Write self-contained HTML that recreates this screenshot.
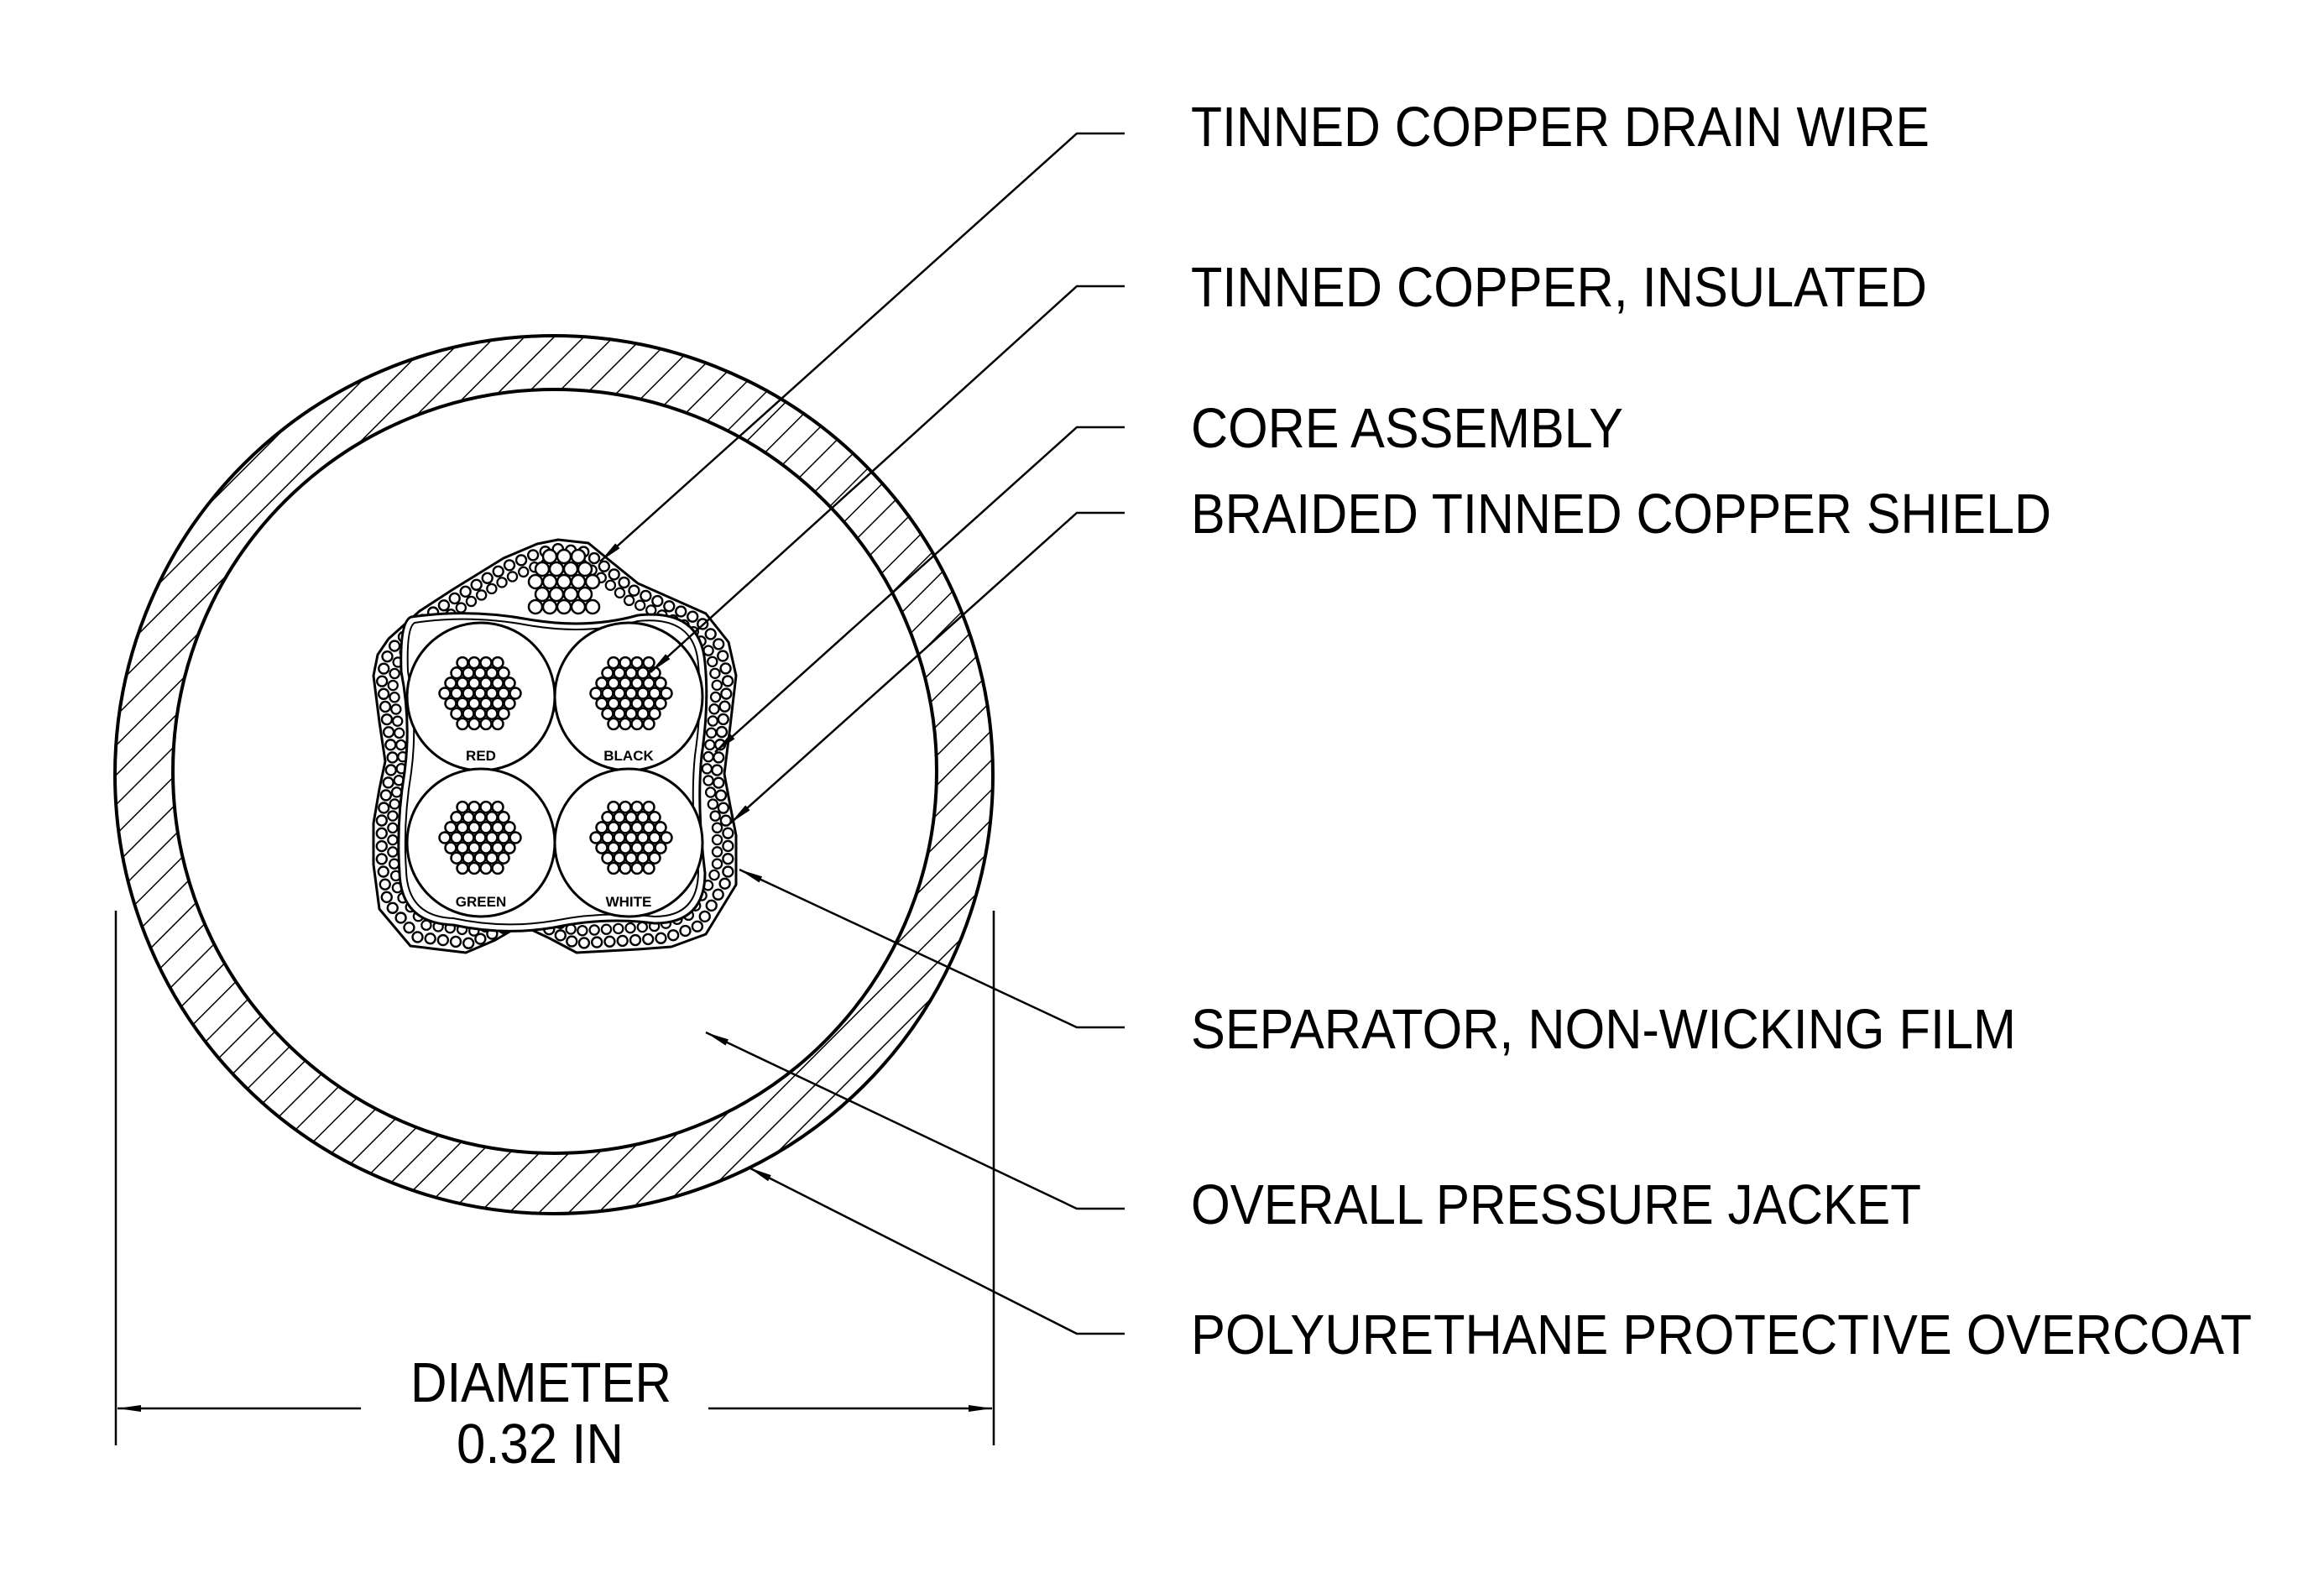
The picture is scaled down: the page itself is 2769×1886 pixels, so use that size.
<!DOCTYPE html>
<html><head><meta charset="utf-8"><style>html,body{margin:0;padding:0;background:#fff}svg{display:block}</style></head>
<body>
<svg width="2769" height="1886" viewBox="0 0 2769 1886" xmlns="http://www.w3.org/2000/svg">
<defs>
<pattern id="hatch" width="25" height="25" patternUnits="userSpaceOnUse" patternTransform="rotate(45)">
<line x1="0" y1="0" x2="0" y2="25" stroke="#000" stroke-width="3"/>
</pattern>
<marker id="ah" markerWidth="30" markerHeight="12" refX="28" refY="5" orient="auto" markerUnits="userSpaceOnUse">
<path d="M0,1 L28,5 L0,9 Z" fill="#000"/>
</marker>
<g id="strands" fill="#fff" stroke="#000" stroke-width="2.5">
<circle cx="-21" cy="-36.4" r="6.5"/><circle cx="-7" cy="-36.4" r="6.5"/><circle cx="7" cy="-36.4" r="6.5"/><circle cx="21" cy="-36.4" r="6.5"/>
<circle cx="-28" cy="-24.2" r="6.5"/><circle cx="-14" cy="-24.2" r="6.5"/><circle cx="0" cy="-24.2" r="6.5"/><circle cx="14" cy="-24.2" r="6.5"/><circle cx="28" cy="-24.2" r="6.5"/>
<circle cx="-35" cy="-12.1" r="6.5"/><circle cx="-21" cy="-12.1" r="6.5"/><circle cx="-7" cy="-12.1" r="6.5"/><circle cx="7" cy="-12.1" r="6.5"/><circle cx="21" cy="-12.1" r="6.5"/><circle cx="35" cy="-12.1" r="6.5"/>
<circle cx="-42" cy="0" r="6.5"/><circle cx="-28" cy="0" r="6.5"/><circle cx="-14" cy="0" r="6.5"/><circle cx="0" cy="0" r="6.5"/><circle cx="14" cy="0" r="6.5"/><circle cx="28" cy="0" r="6.5"/><circle cx="42" cy="0" r="6.5"/>
<circle cx="-35" cy="12.1" r="6.5"/><circle cx="-21" cy="12.1" r="6.5"/><circle cx="-7" cy="12.1" r="6.5"/><circle cx="7" cy="12.1" r="6.5"/><circle cx="21" cy="12.1" r="6.5"/><circle cx="35" cy="12.1" r="6.5"/>
<circle cx="-28" cy="24.2" r="6.5"/><circle cx="-14" cy="24.2" r="6.5"/><circle cx="0" cy="24.2" r="6.5"/><circle cx="14" cy="24.2" r="6.5"/><circle cx="28" cy="24.2" r="6.5"/>
<circle cx="-21" cy="36.4" r="6.5"/><circle cx="-7" cy="36.4" r="6.5"/><circle cx="7" cy="36.4" r="6.5"/><circle cx="21" cy="36.4" r="6.5"/>
</g>
<path id="coreP" d="M665,643 L701,647 L723,665 L760,695 L841,731 L868,765 L877,805 L870,865 L863,922 L870,960 L877,995 L877,1054 L841,1113 L800,1128 L760,1131 L687,1135 L655,1118 L621,1102 L590,1120 L555,1135 L489,1127 L452,1083 L445,1030 L445,981 L452,940 L459,907 L452,860 L445,805 L450,780 L463,761 L500,728 L540,702 L600,665 L640,648 Z"/>
</defs>

<circle cx="660" cy="923" r="523" fill="url(#hatch)" stroke="#000" stroke-width="4"/>
<circle cx="661" cy="919" r="455" fill="#fff" stroke="#000" stroke-width="4"/>

<use href="#coreP" fill="#fff" stroke="#000" stroke-width="3" stroke-linejoin="round"/>
<g transform="translate(663 890) scale(0.955) translate(-663 -890)">
<use href="#coreP" fill="none" stroke="#000" stroke-width="15" stroke-dasharray="0 16" stroke-linecap="round"/>
<use href="#coreP" fill="none" stroke="#fff" stroke-width="10" stroke-dasharray="0 16" stroke-linecap="round"/>
</g>
<g transform="translate(663 890) scale(0.895) translate(-663 -890)">
<use href="#coreP" fill="none" stroke="#000" stroke-width="15" stroke-dasharray="0 16" stroke-linecap="round"/>
<use href="#coreP" fill="none" stroke="#fff" stroke-width="10" stroke-dasharray="0 16" stroke-linecap="round"/>
</g>
<g fill="#fff" stroke="#000" stroke-width="2.5">
<circle cx="655" cy="663" r="8"/><circle cx="672" cy="663" r="8"/><circle cx="689" cy="663" r="8"/>
<circle cx="646" cy="678" r="8"/><circle cx="663" cy="678" r="8"/><circle cx="680" cy="678" r="8"/><circle cx="697" cy="678" r="8"/>
<circle cx="638" cy="693" r="8"/><circle cx="655" cy="693" r="8"/><circle cx="672" cy="693" r="8"/><circle cx="689" cy="693" r="8"/><circle cx="706" cy="693" r="8"/>
<circle cx="646" cy="708" r="8"/><circle cx="663" cy="708" r="8"/><circle cx="680" cy="708" r="8"/><circle cx="697" cy="708" r="8"/>
<circle cx="638" cy="723" r="8"/><circle cx="655" cy="723" r="8"/><circle cx="672" cy="723" r="8"/><circle cx="689" cy="723" r="8"/><circle cx="706" cy="723" r="8"/>
</g>
<path d="M490,735 Q560,725 630,738 Q700,750 760,733 Q835,725 840,790 Q845,840 836,900 Q830,960 840,1040 Q840,1100 780,1100 Q720,1092 660,1105 Q600,1115 540,1102 Q478,1100 476,1040 Q472,980 482,920 Q490,860 478,800 Q476,740 490,735 Z" fill="#fff" stroke="#000" stroke-width="3"/>
<path d="M494,742 Q560,732 630,745 Q700,757 760,740 Q828,733 832,792 Q837,840 828,900 Q822,960 832,1038 Q832,1092 780,1092 Q720,1085 660,1097 Q600,1107 540,1094 Q486,1092 484,1038 Q480,980 490,920 Q498,860 486,800 Q484,748 494,742 Z" fill="none" stroke="#000" stroke-width="2"/>

<g fill="#fff" stroke="#000" stroke-width="3">
<circle cx="573" cy="830" r="88"/><circle cx="749" cy="830" r="88"/>
<circle cx="573" cy="1004" r="88"/><circle cx="749" cy="1004" r="88"/>
</g>
<use href="#strands" x="572" y="826"/>
<use href="#strands" x="752" y="826"/>
<use href="#strands" x="572" y="998"/>
<use href="#strands" x="752" y="998"/>
<g font-family="Liberation Sans, sans-serif" font-weight="bold" font-size="17" text-anchor="middle">
<text x="573" y="906">RED</text><text x="749" y="906">BLACK</text>
<text x="573" y="1080">GREEN</text><text x="749" y="1080">WHITE</text>
</g>

<g fill="none" stroke="#000" stroke-width="2.5">
<path d="M1340,159 L1283,159 L715,669" marker-end="url(#ah)"/>
<path d="M1340,341 L1283,341 L775,801" marker-end="url(#ah)"/>
<path d="M1340,509 L1283,509 L852,896" marker-end="url(#ah)"/>
<path d="M1340,611 L1283,611 L870,981" marker-end="url(#ah)"/>
<path d="M1340,1224 L1283,1224 L881,1036" marker-end="url(#ah)"/>
<path d="M1340,1440 L1283,1440 L841,1230" marker-end="url(#ah)"/>
<path d="M1340,1589 L1283,1589 L892,1391" marker-end="url(#ah)"/>
</g>

<g stroke="#000" stroke-width="2.5" fill="none">
<line x1="138" y1="1085" x2="138" y2="1722"/>
<line x1="1184" y1="1085" x2="1184" y2="1722"/>
<line x1="430" y1="1678" x2="140" y2="1678" marker-end="url(#ah)"/>
<line x1="844" y1="1678" x2="1182" y2="1678" marker-end="url(#ah)"/>
</g>

<g font-family="Liberation Sans, sans-serif" font-size="67" fill="#000">
<text x="1419" y="174" textLength="880" lengthAdjust="spacingAndGlyphs">TINNED COPPER DRAIN WIRE</text>
<text x="1419" y="365" textLength="877" lengthAdjust="spacingAndGlyphs">TINNED COPPER, INSULATED</text>
<text x="1419" y="533" textLength="515" lengthAdjust="spacingAndGlyphs">CORE ASSEMBLY</text>
<text x="1419" y="635" textLength="1025" lengthAdjust="spacingAndGlyphs">BRAIDED TINNED COPPER SHIELD</text>
<text x="1419" y="1249" textLength="983" lengthAdjust="spacingAndGlyphs">SEPARATOR, NON-WICKING FILM</text>
<text x="1419" y="1458" textLength="870" lengthAdjust="spacingAndGlyphs">OVERALL PRESSURE JACKET</text>
<text x="1419" y="1613" textLength="1264" lengthAdjust="spacingAndGlyphs">POLYURETHANE PROTECTIVE OVERCOAT</text>
<text x="489" y="1670" textLength="311" lengthAdjust="spacingAndGlyphs">DIAMETER</text>
<text x="544" y="1743" textLength="199" lengthAdjust="spacingAndGlyphs">0.32 IN</text>
</g>
</svg>
</body></html>
